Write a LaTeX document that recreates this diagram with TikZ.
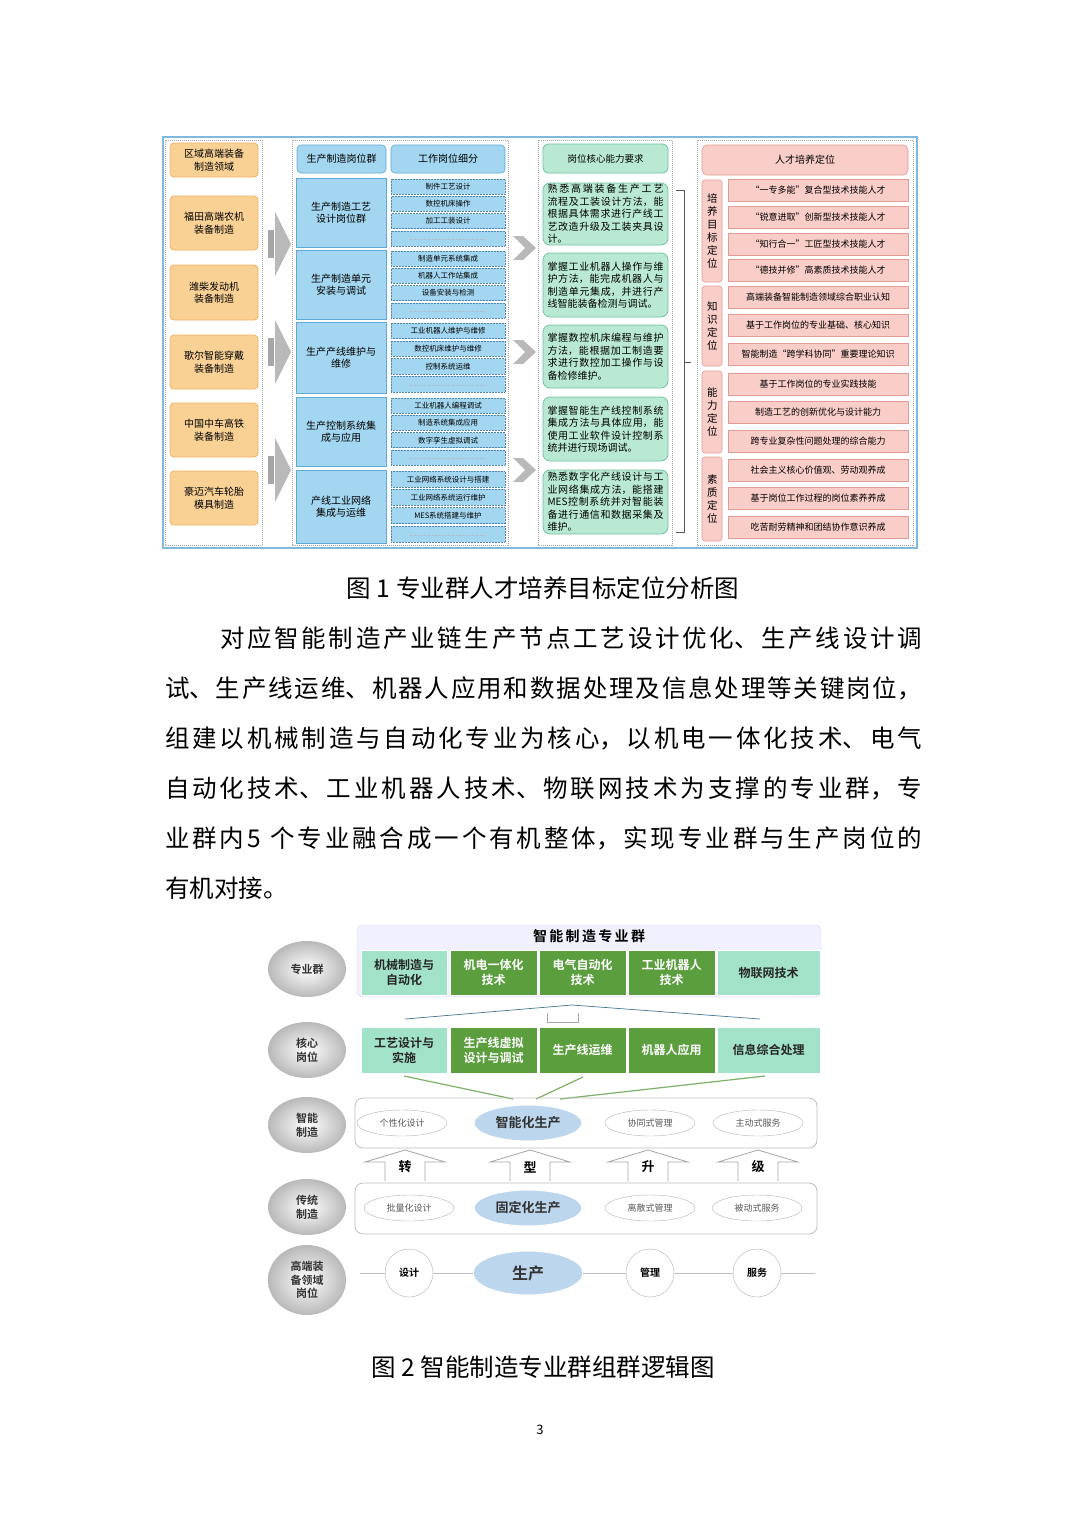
\documentclass[tikz,border=0pt]{standalone}
\usepackage{fontspec}
\setmainfont{Noto Sans CJK SC}[BoldFont={* Bold}]
\XeTeXlinebreaklocale "zh"
\XeTeXlinebreakskip=0pt plus 2pt
\usetikzlibrary{shapes.geometric,calc}
\definecolor{orf}{HTML}{F9D195}\definecolor{ord}{HTML}{EFB066}
\definecolor{blf}{HTML}{A3D6F0}\definecolor{bld}{HTML}{5FA9D6}
\definecolor{grf}{HTML}{B9E9D3}\definecolor{grd}{HTML}{70C3A1}
\definecolor{pkf}{HTML}{F9CDC8}\definecolor{pkd}{HTML}{E39C95}
\definecolor{dgr}{HTML}{5B9E3E}\definecolor{lgr}{HTML}{A2E2C9}
\definecolor{elb}{HTML}{BCD6EE}
\newcommand\fs[1]{\fontsize{#1}{\fpeval{#1*1.25}}\selectfont}
\newcommand\bx[7]{\node[#2,minimum width={((#5)-(#3))*1pt},minimum height={((#6)-(#4))*1pt}] (#1) at ({((#3)+(#5))/2},{((#4)+(#6))/2}) {#7};}
\tikzset{
 base/.style={inner sep=0pt,outer sep=0pt,align=center},
 orbox/.style={base,draw=ord,fill=orf,rounded corners=4pt,line width=0.8pt,font=\fs{10}},
 blbox/.style={base,draw=bld,fill=blf,line width=0.6pt,font=\fs{10}},
 blsub/.style={base,draw=bld!80!black,densely dotted,fill=blf,line width=0.5pt,font=\fs{7.5}},
 grbox/.style={base,draw=grd,fill=grf,rounded corners=7pt,line width=0.8pt,font=\fs{9.5}},
 pkbox/.style={base,draw=pkd,fill=pkf,line width=0.6pt,font=\fs{9}},
 pkhd/.style={base,draw=pkd,fill=pkf,rounded corners=5pt,line width=0.6pt,font=\fs{10}},
 frame/.style={draw=gray!70,densely dotted,line width=1pt},
 dbox/.style={base,fill=dgr,draw=white,line width=1pt,text=white,font=\bfseries\fs{12}},
 lbox/.style={base,fill=lgr,draw=white,line width=1pt,text=black!85,font=\bfseries\fs{12}},
 side/.style={base,ellipse,shading=radial,inner color=white,outer color=gray!55,minimum width=78pt,minimum height=56pt,font=\bfseries\fs{11},text=black!80},
 oel/.style={base,ellipse,draw=gray!60,fill=white,minimum width=90pt,minimum height=26pt,font=\fs{9},text=gray!70!black},
 bel/.style={base,ellipse,fill=elb,draw=white,line width=1pt,minimum width=108pt,minimum height=36pt,font=\bfseries\fs{13},text=black!80},
 upar/.style={draw=gray!70,fill=white,line width=0.8pt},
}
\begin{document}
\begin{tikzpicture}[x=1pt,y=-1pt]
\useasboundingbox[fill=white] (0,0) rectangle (1080,1528);
% ===== Figure 1 =====
\draw[draw=bld!80,line width=1.5pt] (163,137) rectangle (917,548);
\draw[frame] (165,140) rectangle (262,545);
\draw[frame] (292,140) rectangle (508,545);
\draw[frame] (538,140) rectangle (672,545);
\draw[frame] (697,140) rectangle (913,545);
% col 1
\bx{o0}{orbox}{170}{143}{258}{177}{区域高端装备\\制造领域}
\bx{o1}{orbox}{170}{196}{258}{250}{福田高端农机\\装备制造}
\bx{o2}{orbox}{170}{265}{258}{320}{潍柴发动机\\装备制造}
\bx{o3}{orbox}{170}{335}{258}{389}{歌尔智能穿戴\\装备制造}
\bx{o4}{orbox}{170}{403}{258}{457}{中国中车高铁\\装备制造}
\bx{o5}{orbox}{170}{471}{258}{525}{豪迈汽车轮胎\\模具制造}
\foreach \y in {244,352,470}{
 \fill[gray!70] (268,\y-14) rectangle (274,\y+14);
 \fill[gray!55] (275,\y-14)--(275,\y-32)--(291,\y)--(275,\y+32)--(275,\y+14)--cycle;}
% col 2
\bx{h1}{blbox,rounded corners=4pt}{297}{145}{386}{173}{生产制造岗位群}
\bx{h2}{blbox,rounded corners=4pt}{391}{145}{505}{173}{工作岗位细分}
\bx{g1}{blbox}{296}{178}{386}{247}{生产制造工艺\\设计岗位群}
\bx{g2}{blbox}{296}{250}{386}{319}{生产制造单元\\安装与调试}
\bx{g3}{blbox}{296}{322}{386}{393}{生产产线维护与\\维修}
\bx{g4}{blbox}{296}{397}{386}{466}{生产控制系统集\\成与应用}
\bx{g5}{blbox}{296}{470}{386}{543}{产线工业网络\\集成与运维}
\foreach \a/\b/\ta/\tb/\tc [count=\k] in {
 178/247/制件工艺设计/数控机床操作/加工工装设计,
 250/319/制造单元系统集成/机器人工作站集成/设备安装与检测,
 322/393/工业机器人维护与维修/数控机床维护与维修/控制系统运维,
 397/466/工业机器人编程调试/制造系统集成应用/数字孪生虚拟调试,
 470/543/工业网络系统设计与搭建/工业网络系统运行维护/MES系统搭建与维护}{
 \foreach \i/\t in {0/\ta,1/\tb,2/\tc,3/{}}{
  \pgfmathsetmacro\ya{\a+\i*(\b-\a)/4+1.2}
  \pgfmathsetmacro\yb{\a+(\i+1)*(\b-\a)/4-1.2}
  \bx{s\k\i}{blsub}{391}{\ya}{505}{\yb}{\t}}
 \draw[gray!60,dotted] (410,{\b-8}) -- (485,{\b-8});}
\foreach \y in {248,352,470}{
 \fill[gray!55] (513,\y-12)--(523,\y-12)--(536,\y)--(523,\y+12)--(513,\y+12)--(525,\y)--cycle;}
% col 3
\bx{c0}{grbox,rounded corners=5pt}{543}{144}{668}{173}{岗位核心能力要求}
\tikzset{gt/.style={text width=116pt,align=justify,font=\fs{10}}}
\bx{c1}{grbox,gt}{543}{183}{668}{245}{熟悉高端装备生产工艺流程及工装设计方法，能根据具体需求进行产线工艺改造升级及工装夹具设计。}
\bx{c2}{grbox,gt}{543}{253}{668}{317}{掌握工业机器人操作与维护方法，能完成机器人与制造单元集成，并进行产线智能装备检测与调试。}
\bx{c3}{grbox,gt}{543}{325}{668}{388}{掌握数控机床编程与维护方法，能根据加工制造要求进行数控加工操作与设备检修维护。}
\bx{c4}{grbox,gt}{543}{397}{668}{461}{掌握智能生产线控制系统集成方法与具体应用，能使用工业软件设计控制系统并进行现场调试。}
\bx{c5}{grbox,gt}{543}{470}{668}{534}{熟悉数字化产线设计与工业网络集成方法，能搭建MES控制系统并对智能装备进行通信和数据采集及维护。}
\draw[gray!70!black,line width=0.9pt] (676,190)--(684,190)--(684,532)--(676,532);
\draw[gray!70!black,line width=0.9pt] (684,362)--(691,362);
% col 4
\bx{p0}{pkhd}{702}{145}{908}{175}{人才培养定位}
\bx{v1}{pkbox,rounded corners=3pt,text width=10pt,font=\fs{10.5}}{702}{180}{722}{282}{培\\养\\目\\标\\定\\位}
\bx{v2}{pkbox,rounded corners=3pt,text width=10pt,font=\fs{10.5}}{702}{286}{722}{366}{知\\识\\定\\位}
\bx{v3}{pkbox,rounded corners=3pt,text width=10pt,font=\fs{10.5}}{702}{371}{722}{453}{能\\力\\定\\位}
\bx{v4}{pkbox,rounded corners=3pt,text width=10pt,font=\fs{10.5}}{702}{457}{722}{541}{素\\质\\定\\位}
\foreach \y/\t [count=\k] in {
 190/“一专多能”复合型技术技能人才,
 217/“锐意进取”创新型技术技能人才,
 244/“知行合一”工匠型技术技能人才,
 270/“德技并修”高素质技术技能人才,
 297/高端装备智能制造领域综合职业认知,
 325/基于工作岗位的专业基础、核心知识,
 354/智能制造“跨学科协同”重要理论知识,
 384/基于工作岗位的专业实践技能,
 412/制造工艺的创新优化与设计能力,
 441/跨专业复杂性问题处理的综合能力,
 470/社会主义核心价值观、劳动观养成,
 498/基于岗位工作过程的岗位素养养成,
 527/吃苦耐劳精神和团结协作意识养成}{
 \bx{q\k}{pkbox}{728}{\y-11}{908}{\y+11}{\t}}
\node[base,font=\fs{24.5}] (cap1) at (543,588) {图\ 1\ 专业群人才培养目标定位分析图};
% ===== paragraph =====
\node[inner sep=0pt,outer sep=0pt,anchor=north west,text width=757pt,align=justify,font=\fontsize{24.5}{50}\selectfont] (para) at (165,627)
{\hspace*{2.25em}对应智能制造产业链生产节点工艺设计优化、生产线设计调\linebreak
试、生产线运维、机器人应用和数据处理及信息处理等关键岗位，\linebreak
组建以机械制造与自动化专业为核心，以机电一体化技术、电气\linebreak
自动化技术、工业机器人技术、物联网技术为支撑的专业群，专\linebreak
业群内5 个专业融合成一个有机整体，实现专业群与生产岗位的\linebreak
有机对接。};
% ===== Figure 2 =====
\node[side] (e1) at (307,969) {专业群};
\node[side] (e2) at (307,1050) {核心\\岗位};
\node[side] (e3) at (307,1125) {智能\\制造};
\node[side] (e4) at (307,1207) {传统\\制造};
\node[side,minimum height=70pt] (e5) at (307,1280) {高端装\\备领域\\岗位};
\bx{band}{base,fill=blue!6,draw=blue!15,rounded corners=6pt}{357}{925}{821}{997}{}
\node[base,font=\bfseries\fs{14}] (ttl) at (589,936) {智\,能\,制\,造\,专\,业\,群};
\bx{m1}{lbox}{361}{950}{447}{995}{机械制造与\\自动化}
\bx{m2}{dbox}{450}{950}{537}{995}{机电一体化\\技术}
\bx{m3}{dbox}{539}{950}{626}{995}{电气自动化\\技术}
\bx{m4}{dbox}{628}{950}{715}{995}{工业机器人\\技术}
\bx{m5}{lbox}{717}{950}{820}{995}{物联网技术}
\draw[bld!70!black,line width=0.7pt] (405,1019)--(572,1005)--(760,1019);
\draw[gray!70,line width=0.7pt] (547,1013)--(547,1022)--(578,1022)--(578,1013);
\bx{k1}{lbox}{361}{1027}{447}{1073}{工艺设计与\\实施}
\bx{k2}{dbox}{450}{1027}{537}{1073}{生产线虚拟\\设计与调试}
\bx{k3}{dbox}{539}{1027}{626}{1073}{生产线运维}
\bx{k4}{dbox}{628}{1027}{715}{1073}{机器人应用}
\bx{k5}{lbox}{717}{1027}{820}{1073}{信息综合处理}
\draw[dgr!80,line width=1.2pt] (404,1076)--(513,1099);
\draw[dgr!80,line width=1.2pt] (583,1077)--(536,1099);
\draw[dgr!80,line width=1.2pt] (765,1076)--(560,1099);
\bx{sm}{base,draw=gray!50,rounded corners=8pt,line width=0.8pt}{355}{1098}{817}{1148}{}
\node[oel] (s1) at (402,1123) {个性化设计};
\node[bel] (s2) at (528,1123) {智能化生产};
\node[oel] (s3) at (650,1123) {协同式管理};
\node[oel] (s4) at (758,1123) {主动式服务};
\foreach \x/\t [count=\k] in {405/转,530/型,648/升,758/级}{
 \draw[upar] (\x-20,1181)--(\x-20,1162)--(\x-40,1162)--(\x,1150)--(\x+40,1162)--(\x+20,1162)--(\x+20,1181);
 \node[base,font=\bfseries\fs{13}] (u\k) at (\x,1167) {\t};}
\bx{tr}{base,draw=gray!50,rounded corners=8pt,line width=0.8pt}{355}{1183}{817}{1234}{}
\node[oel] (t1) at (409,1208) {批量化设计};
\node[bel] (t2) at (528,1208) {固定化生产};
\node[oel] (t3) at (650,1208) {离散式管理};
\node[oel] (t4) at (757,1208) {被动式服务};
\coordinate (la) at (360,1273); \coordinate (lb) at (815,1273);
\node[base,circle,draw=gray!60,fill=white,minimum size=48pt,font=\bfseries\fs{10}] (b1) at (409,1273) {设计};
\node[bel,minimum width=110pt,minimum height=44pt,font=\bfseries\fs{16}] (b2) at (528,1273) {生产};
\node[base,circle,draw=gray!60,fill=white,minimum size=48pt,font=\bfseries\fs{10}] (b3) at (650,1273) {管理};
\node[base,circle,draw=gray!60,fill=white,minimum size=48pt,font=\bfseries\fs{10}] (b4) at (757,1273) {服务};
\draw[gray!50] (la)--(b1) (b1)--(b2) (b2)--(b3) (b3)--(b4) (b4)--(lb);
\node[base,font=\fs{24.5}] (cap2) at (543,1367) {图\ 2\ 智能制造专业群组群逻辑图};
\node[base,font=\fs{13}] (pg) at (540,1430) {3};
\end{tikzpicture}
\end{document}
